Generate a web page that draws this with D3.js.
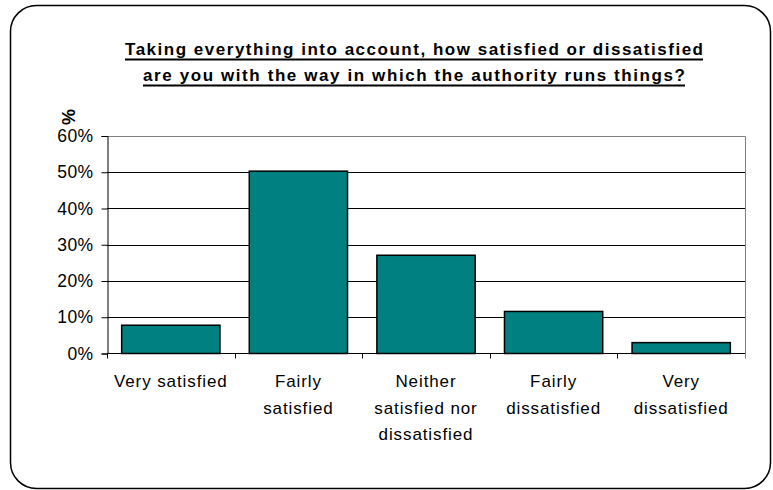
<!DOCTYPE html>
<html>
<head>
<meta charset="utf-8">
<script src="https://cdn.jsdelivr.net/npm/d3@7"></script>
<style>
  html, body { margin: 0; padding: 0; background: #fff; }
  svg { display: block; }
  text { font-family: "Liberation Sans", Arial, sans-serif; }
</style>
</head>
<body>
<svg id="chart" width="773" height="490"></svg>
<script>
// Survey responses: overall satisfaction with the authority
const categories = [
  ["Very satisfied"],
  ["Fairly", "satisfied"],
  ["Neither", "satisfied nor", "dissatisfied"],
  ["Fairly", "dissatisfied"],
  ["Very", "dissatisfied"]
];
const values = [0.078, 0.503, 0.271, 0.116, 0.030];
const yTicks = [0, 0.1, 0.2, 0.3, 0.4, 0.5, 0.6];
const titleLines = [
  "Taking everything into account, how satisfied or dissatisfied",
  "are you with the way in which the authority runs things?"
];

const svg = d3.select("#chart");

// Rounded frame around the whole chart
svg.append("rect")
  .attr("x", 10.5).attr("y", 5.5)
  .attr("width", 760).attr("height", 483)
  .attr("rx", 26).attr("ry", 26)
  .attr("fill", "#fff")
  .attr("stroke", "#000")
  .attr("stroke-width", 1.5);

const plot = { left: 107, right: 745, top: 136, bottom: 353.5 };

const x = d3.scaleBand()
  .domain(d3.range(categories.length))
  .range([plot.left, plot.right])
  .paddingInner(0.23)
  .paddingOuter(0.115);

const y = d3.scaleLinear()
  .domain([0, 0.6])
  .range([plot.bottom, plot.top]);

// Horizontal gridlines
svg.append("g")
  .selectAll("line")
  .data(yTicks.filter(t => t > 0 && t < 0.6))
  .join("line")
  .attr("x1", plot.left).attr("x2", plot.right)
  .attr("y1", d => Math.round(y(d)) + 0.5)
  .attr("y2", d => Math.round(y(d)) + 0.5)
  .attr("stroke", "#000")
  .attr("stroke-width", 1);

// Plot area border (top and right)
svg.append("path")
  .attr("d", `M${plot.left},${Math.round(plot.top) + 0.5}H${plot.right + 0.5}V${plot.bottom + 5}`)
  .attr("fill", "none")
  .attr("stroke", "#808080")
  .attr("stroke-width", 1);

// Bars
svg.append("g")
  .selectAll("rect")
  .data(values)
  .join("rect")
  .attr("x", (d, i) => x(i))
  .attr("y", d => y(d))
  .attr("width", x.bandwidth())
  .attr("height", d => y(0) - y(d))
  .attr("fill", "#008080")
  .attr("stroke", "#000")
  .attr("stroke-width", 1.5);

// Y axis
const yAxis = d3.axisLeft(y)
  .tickValues(yTicks)
  .tickFormat(d3.format(".0%"))
  .tickSize(6)
  .tickPadding(8);

const gy = svg.append("g")
  .attr("transform", `translate(${plot.left + 0.5},0)`)
  .call(yAxis);
gy.select(".domain").attr("stroke", "#000");
gy.selectAll(".tick line").attr("stroke", "#000");
gy.selectAll(".tick text")
  .attr("fill", "#000")
  .style("font-size", "17.5px")
  .style("letter-spacing", "0.4px")
  .attr("font-family", null);

// X axis: ticks at category boundaries
const step = x.step();
const boundaries = d3.range(categories.length + 1).map(i => plot.left + i * step);
svg.append("line")
  .attr("x1", plot.left).attr("x2", plot.right)
  .attr("y1", plot.bottom).attr("y2", plot.bottom)
  .attr("stroke", "#000").attr("stroke-width", 1.2);
svg.append("g")
  .selectAll("line")
  .data(boundaries.slice(0, -1))
  .join("line")
  .attr("x1", d => Math.round(d) + 0.5).attr("x2", d => Math.round(d) + 0.5)
  .attr("y1", plot.bottom).attr("y2", plot.bottom + 5)
  .attr("stroke", "#000");

// Category labels
const labels = svg.append("g")
  .selectAll("text")
  .data(categories)
  .join("text")
  .attr("text-anchor", "middle")
  .attr("fill", "#000")
  .style("font-size", "17px")
  .style("letter-spacing", "0.9px");
labels.each(function(lines, i) {
  const cx = x(i) + x.bandwidth() / 2;
  d3.select(this).selectAll("tspan")
    .data(lines)
    .join("tspan")
    .attr("x", cx)
    .attr("y", (d, j) => 387 + j * 26.5)
    .text(d => d);
});

// Y axis unit label
svg.append("text")
  .attr("transform", "translate(75,117) rotate(-90)")
  .attr("text-anchor", "middle")
  .attr("font-weight", "bold")
  .style("font-size", "18px")
  .text("%");

// Title with underline
const titleWidths = [578, 542];
const titleBase = [55, 81];
titleLines.forEach((t, i) => {
  const cx = 414;
  svg.append("text")
    .attr("x", cx)
    .attr("y", titleBase[i])
    .attr("text-anchor", "middle")
    .attr("font-weight", "bold")
    .attr("textLength", titleWidths[i])
    .attr("lengthAdjust", "spacing")
    .style("font-size", "17px")
    .text(t);
  svg.append("line")
    .attr("x1", cx - titleWidths[i] / 2)
    .attr("x2", cx + titleWidths[i] / 2)
    .attr("y1", titleBase[i] + 4.5)
    .attr("y2", titleBase[i] + 4.5)
    .attr("stroke", "#000")
    .attr("stroke-width", 1.8);
});
</script>
</body>
</html>
